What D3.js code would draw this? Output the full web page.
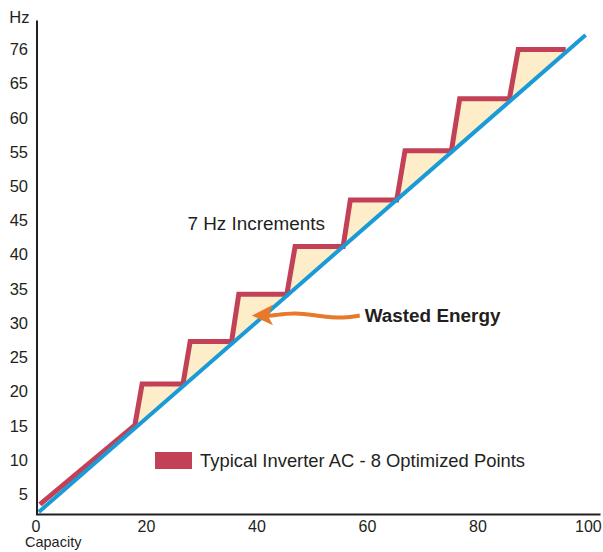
<!DOCTYPE html>
<html>
<head>
<meta charset="utf-8">
<script src="https://cdn.jsdelivr.net/npm/d3@7"></script>
<style>
  html, body { margin: 0; padding: 0; background: #fff; }
  svg { display: block; font-family: "Liberation Sans", Arial, sans-serif; }
</style>
</head>
<body>
<div id="chart"></div>
<script>
// capacity (%) vs compressor frequency (Hz)
const xTicks = [0, 20, 40, 60, 80, 100];
const yTicks = [5, 10, 15, 20, 25, 30, 35, 40, 45, 50, 55, 60, 65, 70];
const yTickLabels = ["5", "10", "15", "20", "25", "30", "35", "40", "45", "50", "55", "60", "65", "76"];

// ideal (linear) demand line
const demandCapacity = [0.6, 99.6];
const demandHz = [2.4, 72.1];

// typical inverter: 7 Hz steps
const inverterCapacity = [0.8, 18.0, 19.3, 26.7, 28.0, 35.5, 36.8, 45.5, 47.0, 55.7, 57.0, 65.4, 66.9, 75.3, 76.8, 85.8, 87.4, 96.0];
const inverterHz = [3.5, 15.1, 21.1, 21.1, 27.3, 27.3, 34.2, 34.2, 41.2, 41.2, 48.0, 48.0, 55.2, 55.2, 62.8, 62.8, 70.0, 70.0];

// "wasted energy" arrow, in capacity / Hz
const arrowCapacity = [58.7, 56.0, 51.5, 47.0, 43.0, 42.0];
const arrowHz = [31.1, 30.7, 31.0, 31.6, 31.1, 31.05];
const headCapacity = [39.2, 43.0, 42.1, 43.0];
const headHz = [31.1, 32.7, 31.05, 29.7];

const legendLabel = "Typical Inverter AC - 8 Optimized Points";

const width = 603, height = 552;
const textColor = "#231f20";

const svg = d3.select("#chart")
  .append("svg")
  .attr("width", width)
  .attr("height", height);

const x = d3.scaleLinear().domain([0, 102.2]).range([35.5, 600]);
const y = d3.scaleLinear().domain([2.1, 74.3]).range([514, 20]);

const demand = demandCapacity.map((c, i) => [c, demandHz[i]]);
const inverter = inverterCapacity.map((c, i) => [c, inverterHz[i]]);

// demand Hz at a given capacity (straight line)
const demandAt = d3.scaleLinear().domain(demandCapacity).range(demandHz);

// wasted area between the steps and the demand line
const area = d3.area()
  .x(d => x(d[0]))
  .y0(d => y(demandAt(d[0])))
  .y1(d => y(d[1]));

svg.append("path")
  .datum(inverter.slice(1))
  .attr("d", area)
  .attr("fill", "#fdedc9");

const line = d3.line().x(d => x(d[0])).y(d => y(d[1]));

svg.append("path")
  .datum(inverter)
  .attr("d", line)
  .attr("fill", "none")
  .attr("stroke", "#c24157")
  .attr("stroke-width", 5)
  .attr("stroke-linejoin", "miter");

svg.append("path")
  .datum(demand)
  .attr("d", line)
  .attr("fill", "none")
  .attr("stroke", "#1a9bd7")
  .attr("stroke-width", 4);

// axes
const xAxis = d3.axisBottom(x)
  .tickValues(xTicks)
  .tickSize(0)
  .tickPadding(7)
  .tickSizeOuter(0);

svg.append("g")
  .attr("transform", "translate(0," + y.range()[0] + ")")
  .call(xAxis)
  .call(g => g.select(".domain").attr("stroke", textColor).attr("stroke-width", 2))
  .call(g => g.selectAll("text").attr("fill", textColor).style("font-size", "16px"));

const yAxis = d3.axisLeft(y)
  .tickValues(yTicks)
  .tickFormat((d, i) => yTickLabels[i])
  .tickSize(0)
  .tickPadding(8.5)
  .tickSizeOuter(0);

svg.append("g")
  .attr("transform", "translate(" + 36.5 + ",0)")
  .call(yAxis)
  .call(g => g.select(".domain").attr("stroke", textColor).attr("stroke-width", 2))
  .call(g => g.selectAll("text").attr("fill", textColor).style("font-size", "16.5px"));

svg.append("text")
  .attr("x", 29.5)
  .attr("y", 22.6)
  .attr("text-anchor", "end")
  .attr("fill", textColor)
  .style("font-size", "16.5px")
  .text("Hz");

svg.append("text")
  .attr("x", 25)
  .attr("y", 547.3)
  .attr("fill", textColor)
  .style("font-size", "14.5px")
  .text("Capacity");

// annotations
svg.append("text")
  .attr("x", x(27.5))
  .attr("y", y(43.6))
  .attr("fill", textColor)
  .style("font-size", "18.9px")
  .text("7 Hz Increments");

svg.append("text")
  .attr("x", x(59.6))
  .attr("y", y(30.2))
  .attr("fill", textColor)
  .style("font-size", "18.9px")
  .style("font-weight", "bold")
  .text("Wasted Energy");

const arrow = arrowCapacity.map((c, i) => [c, arrowHz[i]]);
svg.append("path")
  .datum(arrow)
  .attr("d", d3.line().x(d => x(d[0])).y(d => y(d[1])).curve(d3.curveBasis))
  .attr("fill", "none")
  .attr("stroke", "#e8782a")
  .attr("stroke-width", 4);

const head = headCapacity.map((c, i) => [c, headHz[i]]);
svg.append("path")
  .attr("d", line(head) + "Z")
  .attr("fill", "#e8782a");

// legend
svg.append("rect")
  .attr("x", 155)
  .attr("y", 452)
  .attr("width", 37)
  .attr("height", 17)
  .attr("fill", "#c24157");

svg.append("text")
  .attr("x", 200)
  .attr("y", 467)
  .attr("fill", textColor)
  .style("font-size", "18.4px")
  .text(legendLabel);
</script>
</body>
</html>
